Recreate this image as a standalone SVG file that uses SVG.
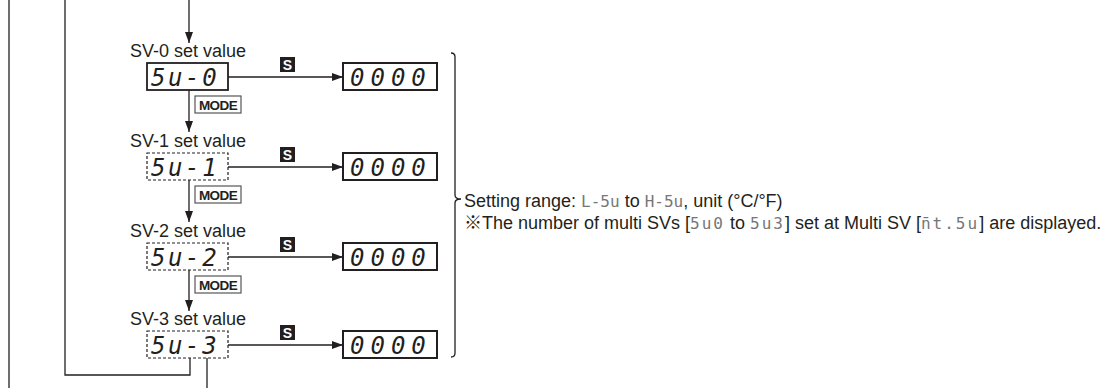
<svg xmlns="http://www.w3.org/2000/svg" width="1114" height="388" viewBox="0 0 1114 388">
<defs>
<marker id="ah" markerWidth="11" markerHeight="8" refX="11" refY="4" orient="auto" markerUnits="userSpaceOnUse"><path d="M0,0 L11,4 L0,8 z" fill="#231f20"/></marker>
</defs>
<style>
.ln{stroke:#231f20;stroke-width:1.3;fill:none}
.lbl{font-family:"Liberation Sans",Arial,sans-serif;font-size:18px;fill:#231f20;text-anchor:middle}
.box{fill:#fff;stroke:#231f20;stroke-width:1.8}
.dbox{fill:#fff;stroke:#231f20;stroke-width:1.2;stroke-dasharray:3 2}
.obox{fill:#fff;stroke:#231f20;stroke-width:2}
.seg{font-family:"DejaVu Sans Mono",monospace;font-size:24px;font-style:italic;fill:#231f20}
.sk{fill:#231f20}
.st{font-family:"Liberation Sans",Arial,sans-serif;font-weight:bold;font-size:14px;fill:#fff;text-anchor:middle}
.mode{fill:#fff;stroke:#555;stroke-width:1.2}
.mt{font-family:"Liberation Sans",Arial,sans-serif;font-weight:bold;font-size:13.5px;fill:#231f20;text-anchor:middle;letter-spacing:-0.6px}
.note{font-family:"Liberation Sans",Arial,"Noto Sans CJK JP",sans-serif;font-size:18px;fill:#231f20}
.iseg{font-family:"DejaVu Sans Mono",monospace;font-size:16px;fill:#777}
.wseg{letter-spacing:2px}
</style>
<g id="connectors">
<line class="ln" x1="9" y1="0" x2="9" y2="388"/>
<path class="ln" d="M65,0 V375 H190 V358"/>
<line class="ln" x1="207" y1="358" x2="207" y2="388"/>
<line class="ln" x1="189" y1="0" x2="189" y2="43" marker-end="url(#ah)"/>
<line class="ln" x1="189" y1="90" x2="189" y2="132" marker-end="url(#ah)"/>
<line class="ln" x1="189" y1="180" x2="189" y2="222" marker-end="url(#ah)"/>
<line class="ln" x1="189" y1="270" x2="189" y2="311" marker-end="url(#ah)"/>
<line class="ln" x1="228" y1="77" x2="343" y2="77" marker-end="url(#ah)"/>
<line class="ln" x1="228" y1="167" x2="343" y2="167" marker-end="url(#ah)"/>
<line class="ln" x1="228" y1="257" x2="343" y2="257" marker-end="url(#ah)"/>
<line class="ln" x1="228" y1="345" x2="343" y2="345" marker-end="url(#ah)"/>
<path class="ln" d="M451,53 Q455,53 455,57 L455,195 Q455,199 461,199 Q455,199 455,203 L455,353 Q455,357 451,357"/>
</g>
<g id="sv0">
<text class="lbl" x="188" y="57">SV-0 set value</text>
<rect class="box" x="147" y="63" width="81" height="27"/>
<text class="seg" x="151" y="86" letter-spacing="2.6">5u-0</text>
</g>
<g id="s0"><rect class="sk" x="280" y="57" width="15" height="15"/><text class="st" x="287.5" y="69.5">S</text></g>
<g id="v0"><rect class="obox" x="343" y="63" width="94" height="27"/><text class="seg" x="350" y="86" letter-spacing="6">0000</text></g>
<g id="m0"><rect class="mode" x="195" y="96" width="46" height="17"/><text class="mt" x="218" y="109.5">MODE</text></g>
<g id="sv1">
<text class="lbl" x="188" y="147">SV-1 set value</text>
<rect class="dbox" x="147" y="153" width="81" height="27"/>
<text class="seg" x="151" y="176" letter-spacing="2.6">5u-1</text>
</g>
<g id="s1"><rect class="sk" x="280" y="147" width="15" height="15"/><text class="st" x="287.5" y="159.5">S</text></g>
<g id="v1"><rect class="obox" x="343" y="153" width="94" height="27"/><text class="seg" x="350" y="176" letter-spacing="6">0000</text></g>
<g id="m1"><rect class="mode" x="195" y="186" width="46" height="17"/><text class="mt" x="218" y="199.5">MODE</text></g>
<g id="sv2">
<text class="lbl" x="188" y="237">SV-2 set value</text>
<rect class="dbox" x="147" y="243" width="81" height="27"/>
<text class="seg" x="151" y="266" letter-spacing="2.6">5u-2</text>
</g>
<g id="s2"><rect class="sk" x="280" y="237" width="15" height="15"/><text class="st" x="287.5" y="249.5">S</text></g>
<g id="v2"><rect class="obox" x="343" y="243" width="94" height="27"/><text class="seg" x="350" y="266" letter-spacing="6">0000</text></g>
<g id="m2"><rect class="mode" x="195" y="276" width="46" height="17"/><text class="mt" x="218" y="289.5">MODE</text></g>
<g id="sv3">
<text class="lbl" x="188" y="325">SV-3 set value</text>
<rect class="dbox" x="147" y="331" width="81" height="27"/>
<text class="seg" x="151" y="354" letter-spacing="2.6">5u-3</text>
</g>
<g id="s3"><rect class="sk" x="280" y="325" width="15" height="15"/><text class="st" x="287.5" y="337.5">S</text></g>
<g id="v3"><rect class="obox" x="343" y="331" width="94" height="27"/><text class="seg" x="350" y="354" letter-spacing="6">0000</text></g>
<g id="note">
<text class="note" x="464" y="207">Setting range: <tspan class="iseg">L-5u</tspan> to <tspan class="iseg">H-5u</tspan>, unit (°C/°F)</text>
<text class="note" x="464" y="229">※The number of multi SVs [<tspan class="iseg wseg">5u0</tspan> to <tspan class="iseg wseg">5u3</tspan>] set at Multi SV [<tspan class="iseg wseg">n&#772;t.5u</tspan>] are displayed.</text>
</g>
</svg>
